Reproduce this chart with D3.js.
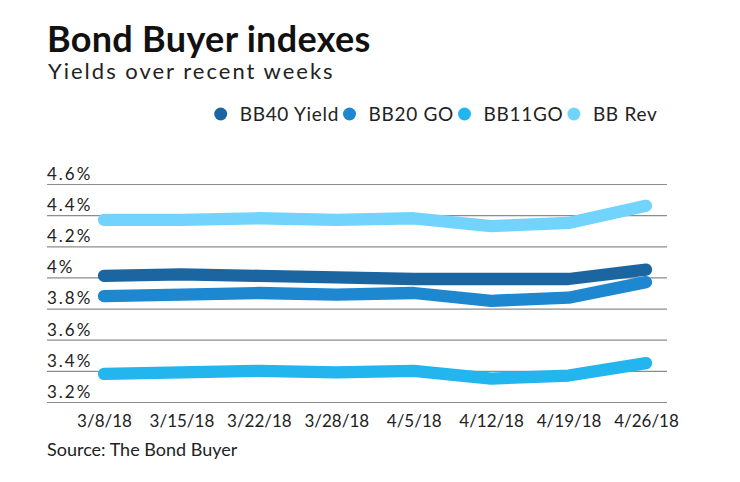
<!DOCTYPE html>
<html lang="en">
  <head>
    <meta charset="utf-8">
    <script src="https://cdn.jsdelivr.net/npm/d3@7"></script>
    <style>
      body{
        margin:0;
        background:#fff;
      }
      text{
        font-family:Lato, "Open Sans", sans-serif;
      }
    </style>
  </head>
  <body>
    <svg></svg>
  </body>
  <script>

    var dates = ['3/8/18','3/15/18','3/22/18','3/28/18','4/5/18','4/12/18','4/19/18','4/26/18'];
    var seriesNames = ['BB40 Yield','BB20 GO','BB11GO','BB Rev'];
    var bb40 = [4.01, 4.02, 4.01, 4.00, 3.99, 3.99, 3.99, 4.05];
    var bb20 = [3.88, 3.89, 3.90, 3.89, 3.90, 3.85, 3.87, 3.97];
    var bb11 = [3.38, 3.39, 3.40, 3.39, 3.40, 3.35, 3.37, 3.45];
    var bbRev = [4.37, 4.37, 4.38, 4.37, 4.38, 4.33, 4.35, 4.46];
    var yTicks = [3.2, 3.4, 3.6, 3.8, 4.0, 4.2, 4.4, 4.6];
    var colors = ['#1b66a0','#1d87d0','#22b5ee','#72d4fc'];

    var series = [bb40, bb20, bb11, bbRev];

    var svgwidth = 740;
    var svgheight = 482;

    var svg = d3.select('svg')
                .attr('width',svgwidth)
                .attr('height',svgheight);

    var margins = {
      left:47,
      right:73,
      top:184,
      bottom:80
    };

    var xScale = d3.scalePoint()
                   .domain(dates)
                   .range([104,646]);

    var yScale = d3.scaleLinear()
                   .domain([3.2,4.6])
                   .range([svgheight-margins.bottom, margins.top]);

    // title block
    svg.append('text')
       .attr('x',47)
       .attr('y',52)
       .attr('font-size',36)
       .attr('font-weight','bold')
       .attr('letter-spacing',0.3)
       .attr('fill','#111')
       .text('Bond Buyer indexes');

    svg.append('text')
       .attr('x',48)
       .attr('y',79)
       .attr('font-size',22)
       .attr('letter-spacing',2)
       .attr('fill','#222')
       .text('Yields over recent weeks');

    // legend
    var legend = svg.append('g').attr('transform','translate(0,114)');
    var lx = 220.7;
    seriesNames.forEach(function(name,i){
      legend.append('circle')
            .attr('cx',lx)
            .attr('cy',0)
            .attr('r',6.5)
            .attr('fill',colors[i]);
      var t = legend.append('text')
            .attr('x',lx+19)
            .attr('y',7)
            .attr('font-size',19)
            .attr('letter-spacing',0.7)
            .attr('fill','#222')
            .text(name);
      lx = lx + 19 + t.node().getComputedTextLength() + 10.5;
    });

    // gridlines + y labels
    var yAxis = d3.axisRight(yScale)
                  .tickValues(yTicks)
                  .tickSize(svgwidth-margins.left-margins.right)
                  .tickFormat(function(d){ return d3.format('.1~f')(d)+'%'; });

    var gy = svg.append('g')
       .attr('transform','translate('+margins.left+',0)')
       .call(yAxis);
    gy.select('.domain').remove();
    gy.selectAll('line').attr('stroke','#8c8c8c').attr('stroke-width',1.2);
    gy.selectAll('text')
      .attr('x',0)
      .attr('dy',-4.7)
      .attr('text-anchor','start')
      .attr('font-size',17)
      .attr('letter-spacing',2)
      .attr('font-family','Lato, sans-serif')
      .attr('fill','#222');

    // x labels
    var xAxis = d3.axisBottom(xScale).tickSize(0).tickPadding(0);
    var gx = svg.append('g')
       .attr('transform','translate(0,427)')
       .call(xAxis);
    gx.select('.domain').remove();
    gx.selectAll('text')
      .attr('dy',0)
      .attr('font-size',17)
      .attr('font-family','Lato, sans-serif')
      .attr('fill','#222');

    // lines
    var line = d3.line()
                 .x(function(d,i){ return xScale(dates[i]); })
                 .y(function(d){ return yScale(d); });

    svg.selectAll('.series')
       .data(series)
       .enter()
       .append('path')
       .classed('series',true)
       .attr('d',line)
       .attr('fill','none')
       .attr('stroke',function(d,i){ return colors[i]; })
       .attr('stroke-width',12.3)
       .attr('stroke-linecap','round')
       .attr('stroke-linejoin','round');

    // source
    svg.append('text')
       .attr('x',47)
       .attr('y',456)
       .attr('font-size',18)
       .attr('fill','#222')
       .text('Source: The Bond Buyer');

  </script>
</html>
